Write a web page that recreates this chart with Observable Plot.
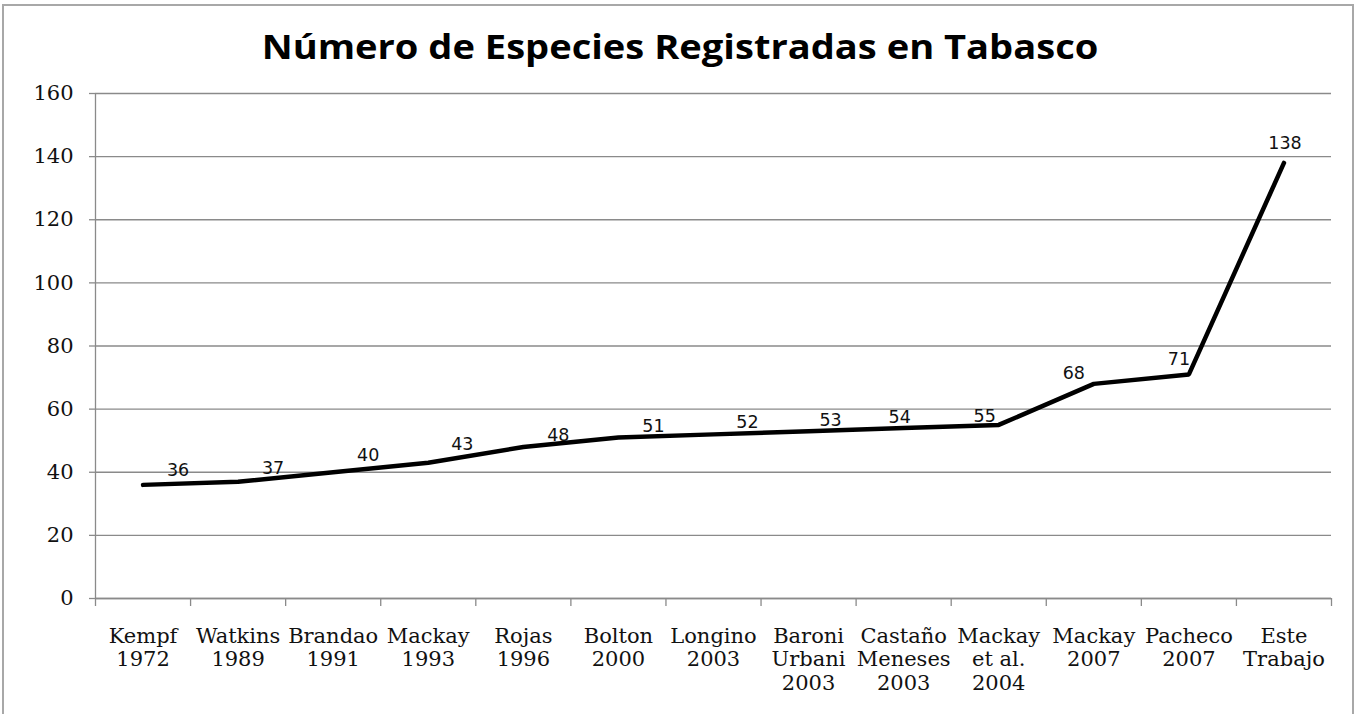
<!DOCTYPE html>
<html>
<head>
<meta charset="utf-8">
<script src="https://cdn.jsdelivr.net/npm/d3@7"></script>
<script src="https://cdn.jsdelivr.net/npm/@observablehq/plot@0.6"></script>
<style>
  html, body { margin: 0; padding: 0; background: #fff; }
  #wrap { position: relative; width: 1360px; height: 714px; overflow: hidden; background: #fff; }
  #frame { position: absolute; left: 2px; top: 4px; width: 1352px; height: 760px; border: 2px solid #a8a8a8; box-sizing: border-box; }
  #title { position: absolute; left: 0; top: 12px; width: 1360px; height: 68px; line-height: 68px; text-align: center;
           font-family: "Open Sans", sans-serif; font-weight: 700; font-size: 34px; color: #000;
           transform: scaleX(1.12); transform-origin: 680px 50%; }
  #chart { position: absolute; left: 0; top: 80px; }
</style>
</head>
<body>
<div id="wrap">
  <div id="frame"></div>
  <div id="title">Número de Especies Registradas en Tabasco</div>
  <div id="chart"></div>
</div>
<script>
const studies = ["Kempf\n1972", "Watkins\n1989", "Brandao\n1991", "Mackay\n1993", "Rojas\n1996", "Bolton\n2000", "Longino\n2003", "Baroni\nUrbani\n2003", "Castaño\nMeneses\n2003", "Mackay\net al.\n2004", "Mackay\n2007", "Pacheco\n2007", "Este\nTrabajo"];
const species = [36, 37, 40, 43, 48, 51, 52, 53, 54, 55, 68, 71, 138];
const yTicks = [0, 20, 40, 60, 80, 100, 120, 140, 160];

// label nudges (px) reproducing the reference's data-label placement
const labelDx = [35, 35, 35, 34, 35, 35, 34, 22, -4, -14, -20, -10, 1];
const labelDy = [-14, -13, -17, -18, -12, -11, -12, -11, -11, -9, -10, -15, -20];

const idx = d3.range(studies.length);
const bounds = d3.range(studies.length + 1);
const grid = "#8a8a8a";

const plot = Plot.plot({
  width: 1360,
  height: 634,
  marginTop: 13,
  marginLeft: 95,
  marginRight: 29,
  marginBottom: 116,
  style: { fontFamily: "DejaVu Serif, serif", fontSize: "21px", color: "#111", background: "transparent" },
  x: { type: "linear", domain: [0, studies.length] },
  y: { domain: [0, 160] },
  marks: [
    Plot.gridY(yTicks, { stroke: grid, strokeOpacity: 1, strokeWidth: 1.3 }),
    Plot.ruleX([0], { stroke: grid, strokeWidth: 1.3 }),
    Plot.ruleY([0], { stroke: grid, strokeWidth: 1.3 }),
    Plot.axisY({ ticks: yTicks, tickSize: 6, tickPadding: 16, stroke: grid, strokeWidth: 1.3, label: null, fontSize: 21, fill: "#111" }),
    Plot.axisX({ ticks: bounds, tickSize: 8, tickFormat: () => "", stroke: grid, strokeWidth: 1.3, label: null }),
    Plot.text(idx, { x: i => i + 0.5, text: i => studies[i], frameAnchor: "bottom", lineAnchor: "top", dy: 27, lineHeight: 1.14, fontSize: 21, fill: "#111" }),
    Plot.line(idx, { x: i => i + 0.5, y: i => species[i], stroke: "#000", strokeWidth: 4.5, strokeLinejoin: "miter" }),
    ...idx.map(i => Plot.text([i], {
      x: j => j + 0.5, y: j => species[j], text: j => String(species[j]),
      dx: labelDx[i], dy: labelDy[i],
      fontFamily: "DejaVu Sans, sans-serif", fontSize: 17.5, fill: "#111"
    }))
  ]
});
document.getElementById("chart").appendChild(plot);
</script>
</body>
</html>
